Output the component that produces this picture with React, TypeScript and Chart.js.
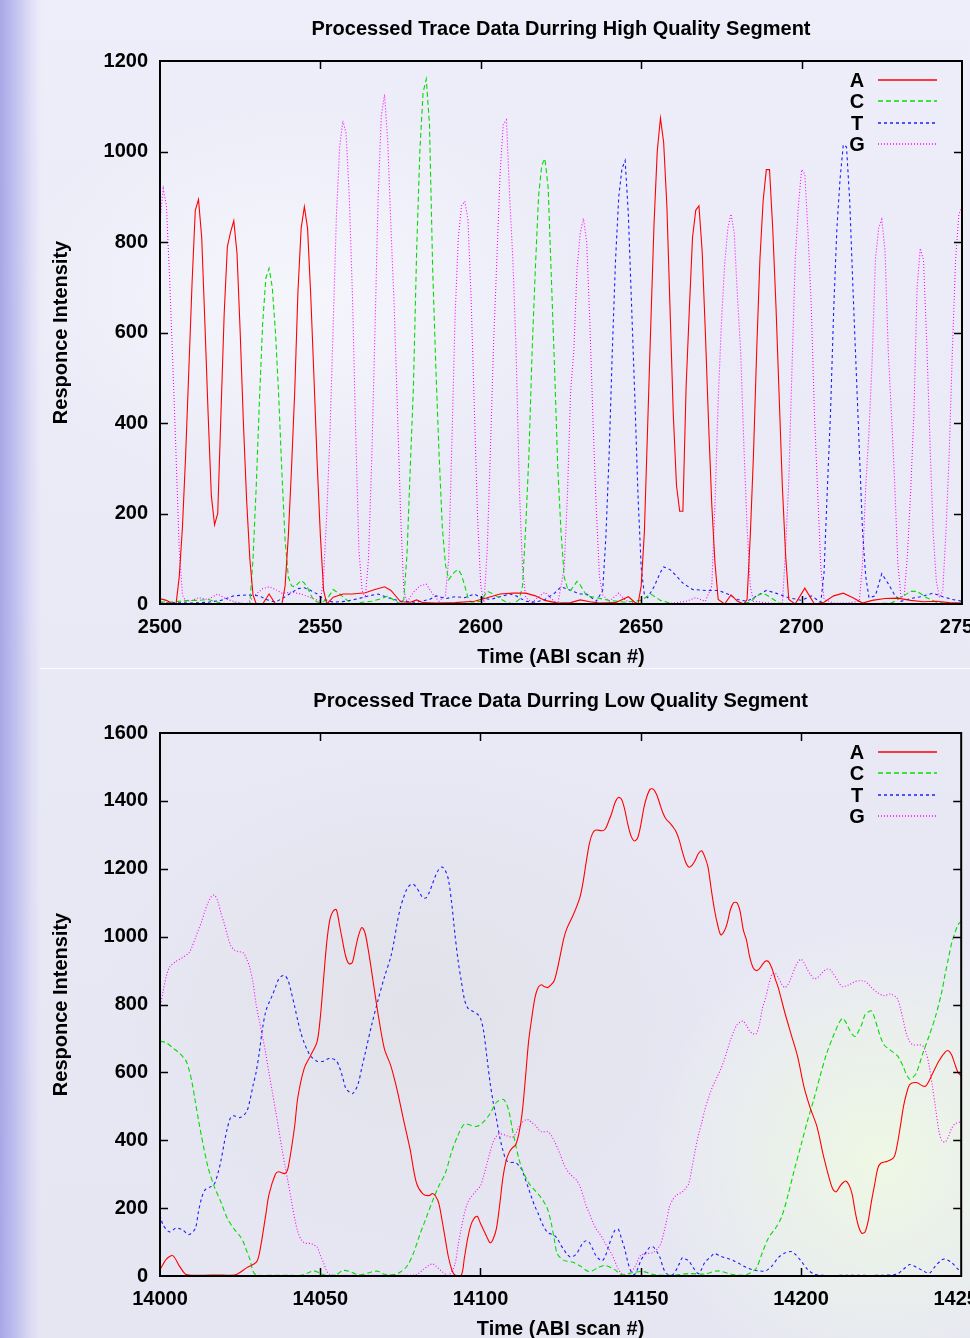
import React, { useEffect, useRef } from "react";
import { Chart, registerables } from "chart.js";

Chart.register(...registerables);

// ---------- labels & styling ----------
const bases = ["A", "C", "T", "G"];
const baseColors = ["#ff0000", "#00dd00", "#1c1cff", "#ff00ff"];
const baseDashes: number[][] = [[], [5, 3], [3, 3], [1, 2]];

const highTitle = "Processed Trace Data Durring High Quality Segment";
const lowTitle = "Processed Trace Data Durring Low Quality Segment";
const xTitle = "Time (ABI scan #)";
const yTitle = "Responce Intensity";

const highXTicks = [2500, 2550, 2600, 2650, 2700, 2750];
const highYTicks = [0, 200, 400, 600, 800, 1000, 1200];
const lowXTicks = [14000, 14050, 14100, 14150, 14200, 14250];
const lowYTicks = [0, 200, 400, 600, 800, 1000, 1200, 1400, 1600];

// ---------- high quality segment: [scan, intensity] ----------
const highA: [number, number][] = [
  [2500, 12], [2502, 8], [2504, 0], [2505, 0], [2506, 60], [2507, 170], [2508, 330], [2509, 520], [2510, 710],
  [2511, 870], [2512, 894], [2513, 810], [2514, 620], [2515, 420], [2516, 240], [2517, 175], [2518, 200],
  [2519, 420], [2520, 640], [2521, 790], [2522, 822], [2523, 847], [2524, 775], [2525, 600], [2526, 400],
  [2527, 230], [2528, 100], [2529, 20], [2530, 0], [2532, 0], [2534, 22], [2536, 0], [2538, 0], [2539, 40],
  [2540, 150], [2541, 300], [2542, 470], [2543, 690], [2544, 830], [2545, 878], [2546, 830], [2547, 680],
  [2548, 500], [2549, 310], [2550, 150], [2551, 30], [2552, 0], [2554, 15], [2557, 22], [2560, 22], [2564, 25],
  [2567, 32], [2570, 38], [2572, 30], [2575, 5], [2578, 4], [2580, 9], [2582, 3], [2586, 2], [2592, 3],
  [2598, 6], [2602, 14], [2606, 22], [2610, 24], [2614, 24], [2617, 18], [2620, 8], [2624, 2], [2628, 3],
  [2631, 9], [2634, 5], [2637, 2], [2642, 3], [2646, 16], [2648, 4], [2649, 0], [2650, 40], [2651, 160],
  [2652, 390], [2653, 620], [2654, 840], [2655, 1000], [2656, 1074], [2657, 1020], [2658, 880], [2659, 650],
  [2660, 420], [2661, 262], [2662, 205], [2663, 205], [2664, 480], [2665, 650], [2666, 810], [2667, 870],
  [2668, 880], [2669, 780], [2670, 600], [2671, 400], [2672, 220], [2673, 90], [2674, 10], [2676, 0],
  [2678, 20], [2680, 6], [2682, 0], [2683, 10], [2684, 150], [2685, 330], [2686, 560], [2687, 760], [2688, 890],
  [2689, 960], [2690, 960], [2691, 830], [2692, 660], [2693, 460], [2694, 260], [2695, 110], [2696, 10],
  [2698, 0], [2701, 35], [2704, 0], [2707, 4], [2710, 18], [2713, 24], [2716, 14], [2719, 2], [2722, 8],
  [2726, 12], [2730, 13], [2734, 8], [2738, 5], [2742, 6], [2746, 3], [2750, 2],
];

const highC: [number, number][] = [
  [2500, 5], [2503, 4], [2506, 6], [2509, 8], [2512, 8], [2515, 10], [2518, 4], [2521, 0], [2524, 2],
  [2527, 0], [2528, 0], [2529, 100], [2530, 260], [2531, 450], [2532, 620], [2533, 720], [2534, 742],
  [2535, 700], [2536, 600], [2537, 460], [2538, 290], [2539, 140], [2540, 60], [2541, 40], [2542, 38],
  [2543, 45], [2544, 52], [2545, 46], [2546, 36], [2547, 20], [2548, 8], [2550, 2], [2552, 10], [2554, 32],
  [2556, 22], [2558, 10], [2560, 0], [2563, 4], [2566, 6], [2569, 12], [2571, 18], [2573, 8], [2575, 0],
  [2576, 10], [2577, 110], [2578, 300], [2579, 480], [2580, 780], [2581, 1000], [2582, 1130], [2583, 1160],
  [2584, 1060], [2585, 740], [2586, 520], [2587, 330], [2588, 170], [2589, 86], [2590, 54], [2591, 64],
  [2592, 72], [2593, 76], [2594, 64], [2595, 40], [2596, 14], [2597, 4], [2600, 6], [2602, 28], [2604, 22],
  [2606, 12], [2608, 4], [2610, 0], [2612, 10], [2613, 40], [2614, 170], [2615, 330], [2616, 560], [2617, 740],
  [2618, 900], [2619, 970], [2620, 984], [2621, 920], [2622, 720], [2623, 520], [2624, 300], [2625, 160],
  [2626, 60], [2627, 35], [2628, 30], [2629, 40], [2630, 50], [2631, 42], [2633, 18], [2636, 14], [2640, 8],
  [2645, 4], [2650, 8], [2653, 22], [2656, 8], [2660, 0], [2670, 0], [2680, 0], [2684, 4], [2686, 18],
  [2688, 24], [2690, 16], [2693, 2], [2700, 0], [2710, 0], [2720, 0], [2728, 2], [2731, 14], [2734, 28],
  [2736, 28], [2739, 14], [2742, 4], [2746, 0], [2750, 2],
];

const highT: [number, number][] = [
  [2500, 2], [2505, 3], [2510, 2], [2515, 4], [2519, 8], [2523, 18], [2527, 20], [2531, 18], [2533, 10],
  [2536, 4], [2539, 16], [2541, 25], [2543, 34], [2545, 36], [2547, 30], [2549, 22], [2551, 10], [2554, 4],
  [2558, 6], [2562, 12], [2565, 18], [2568, 22], [2571, 14], [2575, 6], [2580, 4], [2584, 10], [2586, 18],
  [2589, 12], [2592, 16], [2595, 14], [2598, 22], [2600, 14], [2603, 10], [2606, 16], [2609, 22], [2611, 18],
  [2614, 6], [2617, 4], [2620, 10], [2623, 24], [2625, 38], [2628, 30], [2631, 22], [2633, 22], [2636, 6],
  [2638, 30], [2639, 150], [2640, 330], [2641, 560], [2642, 760], [2643, 900], [2644, 962], [2645, 980],
  [2646, 860], [2647, 660], [2648, 460], [2649, 240], [2650, 80], [2651, 20], [2652, 14], [2654, 38],
  [2656, 70], [2657, 82], [2659, 76], [2661, 62], [2663, 46], [2666, 32], [2670, 30], [2674, 30], [2677, 22],
  [2680, 10], [2683, 6], [2686, 18], [2689, 30], [2692, 24], [2696, 14], [2700, 8], [2703, 18], [2706, 4],
  [2707, 70], [2708, 250], [2709, 420], [2710, 650], [2711, 830], [2712, 940], [2713, 1015], [2714, 1010],
  [2715, 890], [2716, 700], [2717, 520], [2718, 340], [2719, 160], [2720, 60], [2721, 14], [2723, 18],
  [2725, 67], [2727, 45], [2729, 20], [2731, 6], [2734, 12], [2737, 16], [2741, 24], [2744, 16], [2747, 10],
  [2750, 6],
];

const highG: [number, number][] = [
  [2500, 845], [2501, 918], [2502, 880], [2503, 720], [2504, 530], [2505, 330], [2506, 120], [2507, 20],
  [2508, 6], [2510, 8], [2512, 14], [2515, 10], [2518, 22], [2521, 10], [2524, 4], [2527, 0], [2530, 22],
  [2532, 34], [2534, 38], [2536, 32], [2538, 24], [2541, 26], [2544, 22], [2547, 14], [2550, 6], [2551, 60],
  [2552, 200], [2553, 380], [2554, 620], [2555, 860], [2556, 1010], [2557, 1068], [2558, 1040], [2559, 900],
  [2560, 680], [2561, 380], [2562, 120], [2563, 30], [2564, 14], [2565, 100], [2566, 320], [2567, 600],
  [2568, 900], [2569, 1080], [2570, 1126], [2571, 1020], [2572, 830], [2573, 660], [2574, 430], [2575, 200],
  [2576, 30], [2577, 4], [2579, 26], [2581, 40], [2583, 44], [2585, 22], [2587, 6], [2589, 20], [2590, 100],
  [2591, 360], [2592, 640], [2593, 810], [2594, 880], [2595, 890], [2596, 850], [2597, 670], [2598, 430],
  [2599, 190], [2600, 40], [2601, 4], [2602, 120], [2603, 340], [2604, 580], [2605, 760], [2606, 950],
  [2607, 1060], [2608, 1070], [2609, 900], [2610, 760], [2611, 560], [2612, 260], [2613, 80], [2614, 14],
  [2616, 4], [2618, 16], [2620, 26], [2622, 12], [2624, 0], [2626, 80], [2627, 240], [2628, 470], [2629, 560],
  [2630, 740], [2631, 820], [2632, 852], [2633, 800], [2634, 620], [2635, 400], [2636, 210], [2637, 60],
  [2638, 20], [2640, 6], [2643, 24], [2645, 8], [2648, 2], [2655, 0], [2660, 2], [2664, 6], [2667, 14],
  [2670, 6], [2672, 40], [2673, 220], [2674, 450], [2675, 620], [2676, 750], [2677, 830], [2678, 862],
  [2679, 820], [2680, 680], [2681, 560], [2682, 350], [2683, 170], [2684, 40], [2685, 6], [2690, 2], [2694, 0],
  [2695, 120], [2696, 270], [2697, 520], [2698, 760], [2699, 880], [2700, 960], [2701, 950], [2702, 820],
  [2703, 660], [2704, 420], [2705, 250], [2706, 80], [2707, 10], [2710, 2], [2714, 2], [2718, 6], [2719, 90],
  [2720, 260], [2721, 380], [2722, 540], [2723, 760], [2724, 830], [2725, 850], [2726, 780], [2727, 560],
  [2728, 420], [2729, 270], [2730, 90], [2731, 14], [2732, 20], [2733, 110], [2734, 250], [2735, 420],
  [2736, 700], [2737, 786], [2738, 760], [2739, 580], [2740, 360], [2741, 160], [2742, 50], [2743, 14],
  [2744, 30], [2745, 160], [2746, 330], [2747, 560], [2748, 760], [2749, 860], [2750, 880],
];

// ---------- low quality segment: [scan, intensity] ----------
const lowA: [number, number][] = [
  [14000, 18], [14002, 50], [14004, 60], [14006, 30], [14008, 5], [14010, 2], [14014, 2], [14018, 3],
  [14022, 2], [14024, 5], [14027, 24], [14030, 40], [14031, 66], [14033, 180], [14034, 240], [14036, 300],
  [14037, 307], [14039, 302], [14040, 320], [14042, 440], [14043, 526], [14045, 612], [14047, 650],
  [14049, 690], [14050, 760], [14051, 870], [14052, 980], [14053, 1050], [14054, 1075], [14055, 1080],
  [14056, 1035], [14057, 985], [14058, 940], [14059, 920], [14060, 924], [14061, 965], [14062, 1005],
  [14063, 1027], [14064, 1010], [14065, 960], [14066, 900], [14068, 775], [14070, 670], [14072, 620],
  [14074, 548], [14076, 460], [14078, 375], [14080, 275], [14082, 242], [14084, 237], [14085, 243],
  [14086, 235], [14087, 214], [14088, 165], [14089, 110], [14090, 56], [14091, 20], [14092, 3], [14094, 2],
  [14095, 55], [14096, 110], [14097, 150], [14098, 170], [14099, 176], [14100, 155], [14101, 135],
  [14102, 115], [14103, 98], [14104, 110], [14105, 141], [14106, 210], [14107, 290], [14108, 340],
  [14109, 365], [14110, 378], [14111, 387], [14112, 420], [14113, 480], [14114, 580], [14115, 690],
  [14116, 760], [14117, 820], [14118, 850], [14119, 858], [14120, 852], [14121, 850], [14122, 858],
  [14123, 870], [14124, 905], [14125, 950], [14126, 995], [14127, 1025], [14129, 1065], [14131, 1115],
  [14132, 1160], [14133, 1220], [14134, 1275], [14135, 1305], [14136, 1314], [14138, 1312], [14139, 1318],
  [14140, 1340], [14141, 1365], [14142, 1395], [14143, 1410], [14144, 1405], [14145, 1375], [14146, 1330],
  [14147, 1296], [14148, 1282], [14149, 1290], [14150, 1328], [14151, 1380], [14152, 1415], [14153, 1435],
  [14154, 1434], [14155, 1418], [14156, 1390], [14157, 1363], [14158, 1345], [14159, 1336], [14160, 1324],
  [14161, 1310], [14162, 1285], [14163, 1250], [14164, 1220], [14165, 1205], [14166, 1210], [14167, 1225],
  [14168, 1245], [14169, 1253], [14170, 1235], [14171, 1205], [14172, 1140], [14173, 1080], [14174, 1035],
  [14175, 1005], [14176, 1015], [14177, 1040], [14178, 1080], [14179, 1100], [14180, 1100], [14181, 1075],
  [14182, 1020], [14183, 990], [14184, 940], [14185, 910], [14186, 900], [14187, 905], [14188, 918],
  [14189, 928], [14190, 925], [14191, 905], [14192, 875], [14193, 847], [14195, 775], [14197, 710],
  [14199, 645], [14201, 555], [14203, 492], [14205, 440], [14207, 355], [14209, 282], [14210, 255],
  [14211, 248], [14212, 262], [14213, 274], [14214, 280], [14215, 268], [14216, 240], [14217, 185],
  [14218, 145], [14219, 126], [14220, 130], [14221, 163], [14222, 220], [14223, 270], [14224, 318],
  [14225, 333], [14227, 338], [14229, 350], [14230, 385], [14231, 440], [14232, 500], [14233, 540],
  [14234, 565], [14236, 570], [14238, 560], [14239, 560], [14241, 595], [14243, 633], [14245, 660],
  [14246, 664], [14247, 652], [14248, 625], [14249, 600], [14250, 590],
];

const lowC: [number, number][] = [
  [14000, 692], [14002, 687], [14004, 672], [14006, 657], [14008, 636], [14009, 610], [14010, 570],
  [14011, 515], [14012, 460], [14013, 409], [14015, 320], [14017, 262], [14019, 218], [14021, 170],
  [14023, 140], [14025, 117], [14026, 100], [14027, 75], [14028, 50], [14029, 15], [14030, 3], [14035, 2],
  [14040, 2], [14044, 2], [14046, 8], [14048, 15], [14050, 8], [14052, 2], [14055, 4], [14057, 16],
  [14059, 14], [14061, 6], [14063, 4], [14066, 12], [14068, 14], [14070, 5], [14073, 4], [14075, 12],
  [14077, 28], [14079, 65], [14081, 120], [14083, 170], [14085, 220], [14087, 265], [14089, 302],
  [14091, 366], [14093, 415], [14095, 448], [14097, 444], [14099, 441], [14101, 455], [14103, 478],
  [14105, 512], [14107, 521], [14108, 510], [14109, 480], [14110, 430], [14111, 385], [14112, 345],
  [14113, 315], [14115, 275], [14117, 252], [14119, 230], [14120, 215], [14121, 195], [14122, 160],
  [14123, 110], [14124, 65], [14126, 46], [14129, 40], [14131, 30], [14134, 13], [14137, 26], [14139, 31],
  [14142, 18], [14144, 4], [14148, 11], [14151, 13], [14154, 4], [14160, 2], [14165, 7], [14170, 6],
  [14174, 15], [14178, 6], [14182, 2], [14184, 8], [14186, 22], [14188, 70], [14190, 115], [14192, 140],
  [14194, 175], [14196, 240], [14198, 315], [14200, 385], [14202, 456], [14204, 520], [14206, 590],
  [14208, 655], [14210, 705], [14212, 748], [14213, 759], [14214, 748], [14215, 728], [14216, 712],
  [14217, 706], [14218, 722], [14219, 742], [14220, 770], [14221, 778], [14222, 781], [14223, 760],
  [14224, 728], [14225, 700], [14226, 680], [14228, 665], [14230, 650], [14231, 635], [14232, 615],
  [14233, 592], [14234, 580], [14235, 586], [14236, 598], [14237, 625], [14238, 655], [14240, 708],
  [14242, 765], [14244, 840], [14245, 890], [14246, 935], [14247, 980], [14248, 1010], [14249, 1035],
  [14250, 1045],
];

const lowT: [number, number][] = [
  [14000, 180], [14001, 150], [14003, 130], [14005, 141], [14007, 136], [14009, 122], [14011, 140],
  [14012, 190], [14013, 230], [14014, 253], [14016, 264], [14017, 272], [14018, 300], [14019, 339],
  [14020, 390], [14021, 435], [14022, 466], [14023, 472], [14025, 467], [14027, 484], [14028, 515],
  [14029, 560], [14030, 601], [14031, 660], [14032, 730], [14033, 780], [14034, 805], [14035, 826],
  [14036, 850], [14037, 874], [14038, 884], [14039, 885], [14040, 870], [14041, 835], [14042, 795],
  [14043, 752], [14044, 715], [14045, 687], [14046, 665], [14047, 648], [14049, 633], [14051, 633],
  [14053, 642], [14055, 634], [14056, 615], [14057, 585], [14058, 552], [14059, 543], [14060, 537],
  [14061, 548], [14062, 572], [14063, 615], [14064, 655], [14066, 738], [14068, 812], [14070, 880],
  [14072, 940], [14073, 985], [14074, 1040], [14075, 1085], [14076, 1115], [14077, 1140], [14078, 1152],
  [14079, 1155], [14080, 1145], [14081, 1130], [14082, 1115], [14083, 1114], [14084, 1130], [14085, 1155],
  [14086, 1180], [14087, 1198], [14088, 1205], [14089, 1195], [14090, 1168], [14091, 1100], [14092, 1010],
  [14093, 930], [14094, 870], [14095, 815], [14096, 790], [14097, 783], [14098, 778], [14099, 772],
  [14100, 760], [14101, 720], [14102, 645], [14103, 570], [14104, 510], [14105, 462], [14106, 410],
  [14107, 370], [14108, 342], [14109, 335], [14111, 334], [14112, 325], [14113, 312], [14114, 285],
  [14115, 258], [14116, 230], [14117, 205], [14118, 184], [14119, 160], [14120, 141], [14121, 128],
  [14123, 120], [14124, 110], [14125, 92], [14126, 78], [14127, 64], [14128, 56], [14129, 58], [14130, 66],
  [14131, 82], [14132, 98], [14133, 104], [14134, 98], [14135, 80], [14136, 60], [14137, 50], [14138, 45],
  [14139, 60], [14140, 88], [14141, 115], [14142, 135], [14143, 138], [14144, 110], [14145, 80], [14146, 40],
  [14147, 13], [14148, 4], [14149, 20], [14150, 45], [14151, 61], [14152, 75], [14153, 86], [14154, 85],
  [14155, 72], [14156, 55], [14157, 25], [14158, 7], [14160, 4], [14162, 35], [14163, 54], [14164, 50],
  [14165, 45], [14166, 30], [14168, 7], [14169, 20], [14170, 40], [14172, 58], [14173, 66], [14175, 58],
  [14177, 52], [14179, 45], [14181, 35], [14183, 25], [14185, 18], [14187, 15], [14189, 15], [14191, 30],
  [14193, 55], [14195, 68], [14197, 72], [14198, 66], [14200, 45], [14202, 20], [14204, 6], [14206, 2],
  [14215, 2], [14225, 2], [14230, 6], [14232, 20], [14234, 34], [14236, 26], [14238, 16], [14240, 8],
  [14242, 30], [14244, 48], [14245, 50], [14247, 40], [14249, 20], [14250, 15],
];

const lowG: [number, number][] = [
  [14000, 790], [14001, 840], [14002, 885], [14003, 910], [14005, 927], [14007, 938], [14009, 952],
  [14010, 970], [14011, 995], [14012, 1020], [14013, 1045], [14014, 1075], [14015, 1100], [14016, 1118],
  [14017, 1122], [14018, 1105], [14019, 1070], [14020, 1040], [14021, 1005], [14022, 975], [14023, 962],
  [14024, 957], [14026, 952], [14027, 935], [14028, 910], [14029, 865], [14030, 800], [14031, 752],
  [14032, 705], [14033, 655], [14034, 598], [14035, 545], [14036, 490], [14037, 435], [14038, 378],
  [14039, 325], [14040, 275], [14041, 222], [14042, 170], [14043, 130], [14044, 108], [14045, 98],
  [14046, 96], [14047, 96], [14048, 92], [14049, 86], [14050, 62], [14051, 40], [14052, 15], [14053, 4],
  [14056, 2], [14065, 2], [14075, 2], [14080, 4], [14082, 18], [14084, 32], [14085, 36], [14086, 30],
  [14088, 13], [14090, 2], [14092, 34], [14093, 90], [14094, 140], [14095, 185], [14096, 216], [14097, 232],
  [14098, 243], [14099, 255], [14100, 266], [14101, 295], [14102, 330], [14103, 365], [14104, 396],
  [14105, 412], [14106, 419], [14108, 414], [14110, 409], [14111, 420], [14112, 440], [14113, 452],
  [14114, 460], [14115, 460], [14116, 452], [14117, 445], [14118, 433], [14119, 425], [14121, 425],
  [14122, 415], [14123, 398], [14124, 378], [14125, 355], [14126, 330], [14127, 312], [14128, 300],
  [14129, 291], [14130, 282], [14131, 265], [14132, 237], [14133, 206], [14134, 184], [14135, 160],
  [14136, 140], [14137, 127], [14138, 113], [14139, 95], [14140, 80], [14141, 64], [14142, 42], [14143, 20],
  [14144, 8], [14146, 2], [14148, 24], [14150, 61], [14152, 66], [14154, 70], [14156, 90], [14157, 120],
  [14158, 160], [14159, 205], [14160, 225], [14161, 237], [14162, 243], [14163, 248], [14164, 258],
  [14165, 272], [14166, 320], [14167, 370], [14168, 415], [14169, 450], [14170, 490], [14171, 520],
  [14172, 548], [14173, 570], [14174, 590], [14175, 610], [14176, 635], [14177, 665], [14178, 695],
  [14179, 720], [14180, 740], [14181, 748], [14182, 751], [14183, 738], [14184, 722], [14185, 714],
  [14186, 713], [14187, 740], [14188, 790], [14189, 820], [14190, 860], [14191, 890], [14192, 892],
  [14193, 878], [14194, 860], [14195, 850], [14196, 860], [14197, 880], [14198, 905], [14199, 925],
  [14200, 933], [14201, 922], [14202, 903], [14203, 888], [14204, 876], [14205, 878], [14206, 887],
  [14207, 897], [14208, 904], [14209, 903], [14210, 892], [14211, 878], [14212, 862], [14213, 852],
  [14214, 855], [14215, 858], [14216, 863], [14217, 868], [14218, 870], [14219, 870], [14220, 868],
  [14221, 860], [14222, 850], [14224, 834], [14226, 826], [14228, 831], [14230, 818], [14231, 790],
  [14232, 750], [14233, 710], [14234, 690], [14235, 681], [14237, 681], [14238, 678], [14239, 660],
  [14240, 620], [14241, 560], [14242, 495], [14243, 430], [14244, 398], [14245, 395], [14246, 410],
  [14247, 435], [14248, 448], [14249, 452], [14250, 455],
];

// ---------- drawing helpers ----------
const FONT_FAMILY = "'Liberation Sans', Arial, Helvetica, sans-serif";
const boldFont = { family: FONT_FAMILY, size: 20, weight: "bold" as const, lineHeight: 1.2 };

const framePlugin = {
  id: "gnuplotFrame",
  afterDatasetsDraw(chart: any) {
    const { ctx, chartArea } = chart;
    const { left, right, top, bottom } = chartArea;
    ctx.save();
    ctx.setLineDash([]);
    ctx.strokeStyle = "#000";
    ctx.lineWidth = 1.5;
    const tl = 8;
    const xs = chart.scales.x;
    const ys = chart.scales.y;
    ctx.beginPath();
    xs.ticks.forEach((t: any) => {
      const px = Math.round(xs.getPixelForValue(t.value)) + 0.5;
      if (px <= left + 1 || px >= right - 1) return;
      ctx.moveTo(px, bottom);
      ctx.lineTo(px, bottom - tl);
      ctx.moveTo(px, top);
      ctx.lineTo(px, top + tl);
    });
    ys.ticks.forEach((t: any) => {
      const py = Math.round(ys.getPixelForValue(t.value)) + 0.5;
      if (py <= top + 1 || py >= bottom - 1) return;
      ctx.moveTo(left, py);
      ctx.lineTo(left + tl, py);
      ctx.moveTo(right, py);
      ctx.lineTo(right - tl, py);
    });
    ctx.stroke();
    ctx.lineWidth = 2;
    ctx.strokeRect(left, top, right - left, bottom - top);
    ctx.restore();
  },
};

const legendPlugin = {
  id: "traceLegend",
  afterDatasetsDraw(chart: any) {
    const { ctx, chartArea } = chart;
    ctx.save();
    ctx.font = `bold 20px ${FONT_FAMILY}`;
    ctx.textAlign = "center";
    ctx.textBaseline = "middle";
    bases.forEach((label, i) => {
      const y = Math.round(chartArea.top + 19 + i * 21.3);
      ctx.fillStyle = "#000";
      ctx.fillText(label, 857, y + 1);
      ctx.strokeStyle = baseColors[i];
      ctx.lineWidth = 1.6;
      ctx.setLineDash(baseDashes[i]);
      ctx.beginPath();
      ctx.moveTo(878, y);
      ctx.lineTo(937, y);
      ctx.stroke();
    });
    ctx.restore();
  },
};

type Series = [number, number][];

function TraceChart(props: {
  title: string;
  series: Series[];
  xTicks: number[];
  yTicks: number[];
  width: number;
  height: number;
  titlePadTop: number;
  tension: number;
}) {
  const ref = useRef<HTMLCanvasElement>(null);
  useEffect(() => {
    const { title, series, xTicks, yTicks, tension, titlePadTop } = props;
    const chart = new Chart(ref.current as HTMLCanvasElement, {
      type: "line",
      data: {
        datasets: series.map((pts, i) => ({
          label: bases[i],
          data: pts.map(([x, y]) => ({ x, y })),
          borderColor: baseColors[i],
          borderWidth: 1.1,
          borderDash: baseDashes[i],
          pointRadius: 0,
          fill: false,
          tension,
        })),
      },
      options: {
        responsive: false,
        animation: false,
        events: [],
        layout: { padding: { left: 0, right: 38, top: 0, bottom: 0 } },
        scales: {
          x: {
            type: "linear",
            min: xTicks[0],
            max: xTicks[xTicks.length - 1],
            afterBuildTicks: (s: any) => {
              s.ticks = xTicks.map((v) => ({ value: v }));
            },
            afterFit: (s: any) => {
              s.height = 65;
            },
            ticks: {
              callback: (v: any) => String(v),
              padding: 11,
              color: "#000",
              font: boldFont,
              maxRotation: 0,
              autoSkip: false,
            },
            grid: { display: false, drawTicks: false },
            border: { display: false },
            title: { display: true, text: xTitle, color: "#000", font: boldFont, padding: { top: 0, bottom: 0 } },
          },
          y: {
            type: "linear",
            min: yTicks[0],
            max: yTicks[yTicks.length - 1],
            afterBuildTicks: (s: any) => {
              s.ticks = yTicks.map((v) => ({ value: v }));
            },
            afterFit: (s: any) => {
              s.width = 160;
            },
            ticks: {
              callback: (v: any) => String(v),
              padding: 12,
              color: "#000",
              font: boldFont,
              autoSkip: false,
            },
            grid: { display: false, drawTicks: false },
            border: { display: false },
            title: { display: true, text: yTitle, color: "#000", font: boldFont, padding: { top: 49, bottom: 0 } },
          },
        },
        plugins: {
          legend: { display: false },
          tooltip: { enabled: false },
          title: {
            display: true,
            text: title,
            color: "#000",
            font: boldFont,
            fullSize: false,
            padding: { top: titlePadTop, bottom: 20 },
          },
        },
      } as any,
      plugins: [framePlugin, legendPlugin],
    });
    return () => chart.destroy();
  }, []);
  return (
    <canvas
      ref={ref}
      width={props.width}
      height={props.height}
      style={{ display: "block", width: props.width, height: props.height }}
    />
  );
}

export default function App() {
  const bg = [
    "linear-gradient(90deg, rgba(160,160,230,0.9) 0px, rgba(180,180,238,0.75) 16px, rgba(205,205,244,0.5) 30px, rgba(225,225,247,0.15) 40px, rgba(230,230,248,0) 46px)",
    "radial-gradient(ellipse 230px 240px at 880px 1160px, rgba(238,248,228,1), rgba(238,248,228,0))",
    "radial-gradient(ellipse 320px 260px at 420px 1010px, rgba(225,225,232,0.9), rgba(225,225,232,0))",
    "radial-gradient(ellipse 300px 200px at 300px 300px, rgba(248,248,253,0.8), rgba(248,248,253,0))",
    "linear-gradient(180deg, #eeeefa 0%, #e9e9f6 50%, #e6e6f3 100%)",
  ].join(", ");
  return (
    <div
      style={{
        position: "absolute",
        left: 0,
        top: 0,
        width: 970,
        height: 1338,
        overflow: "hidden",
        background: bg,
      }}
    >
      <div style={{ position: "absolute", left: 0, top: 0 }}>
        <TraceChart
          title={highTitle}
          series={[highA, highC, highT, highG]}
          xTicks={highXTicks}
          yTicks={highYTicks}
          width={1000}
          height={669}
          titlePadTop={17}
          tension={0}
        />
      </div>
      <div
        style={{
          position: "absolute",
          left: 40,
          top: 668,
          width: 930,
          height: 1,
          background: "rgba(255,255,255,0.85)",
        }}
      />
      <div style={{ position: "absolute", left: 0, top: 669 }}>
        <TraceChart
          title={lowTitle}
          series={[lowA, lowC, lowT, lowG]}
          xTicks={lowXTicks}
          yTicks={lowYTicks}
          width={1000}
          height={672}
          titlePadTop={20}
          tension={0.3}
        />
      </div>
    </div>
  );
}
